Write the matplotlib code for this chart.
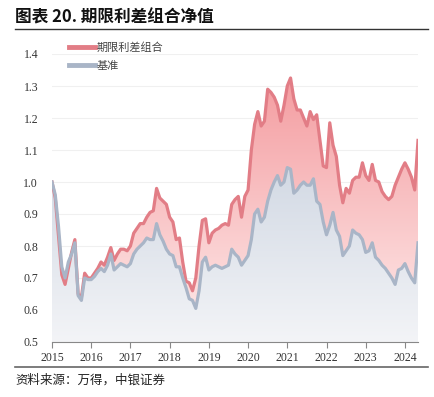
import matplotlib
matplotlib.use('Agg')
import matplotlib.pyplot as plt
import numpy as np
from matplotlib.patches import PathPatch
from matplotlib.colors import to_rgba

plt.rcParams['font.family'] = ['Noto Sans CJK SC', 'DejaVu Sans']

# monthly net values, Jan 2015 .. May 2024
years = ['2015', '2016', '2017', '2018', '2019', '2020', '2021', '2022', '2023', '2024']
portfolio = [
    1.00, 0.95, 0.83, 0.71, 0.68, 0.73, 0.78, 0.82, 0.65, 0.64, 0.715, 0.70,
    0.70, 0.715, 0.73, 0.75, 0.74, 0.765, 0.795, 0.755, 0.775, 0.79, 0.79, 0.785,
    0.80, 0.84, 0.855, 0.87, 0.87, 0.89, 0.905, 0.91, 0.98, 0.95, 0.94, 0.93,
    0.89, 0.875, 0.82, 0.825, 0.75, 0.69, 0.685, 0.66, 0.70, 0.80, 0.88, 0.885,
    0.81, 0.84, 0.85, 0.855, 0.865, 0.87, 0.865, 0.93, 0.945, 0.955, 0.89, 0.955,
    0.975, 1.10, 1.18, 1.22, 1.175, 1.19, 1.29, 1.28, 1.265, 1.24, 1.19, 1.24,
    1.30, 1.325, 1.26, 1.225, 1.225, 1.20, 1.175, 1.22, 1.195, 1.21, 1.13, 1.05,
    1.045, 1.185, 1.115, 1.08, 0.99, 0.935, 0.98, 0.965, 1.005, 1.015, 1.015, 1.06,
    1.02, 1.005, 1.055, 1.005, 1.00, 0.97, 0.955, 0.945, 0.955, 0.99, 1.015, 1.04,
    1.06, 1.04, 1.015, 0.975, 1.13,
]
benchmark = [
    1.00, 0.96, 0.86, 0.735, 0.70, 0.75, 0.775, 0.81, 0.645, 0.63, 0.70, 0.695,
    0.695, 0.705, 0.72, 0.73, 0.72, 0.74, 0.775, 0.725, 0.735, 0.745, 0.74, 0.735,
    0.745, 0.775, 0.79, 0.80, 0.81, 0.825, 0.82, 0.82, 0.87, 0.835, 0.815, 0.79,
    0.775, 0.77, 0.735, 0.735, 0.70, 0.67, 0.635, 0.63, 0.605, 0.66, 0.75, 0.765,
    0.725, 0.735, 0.74, 0.735, 0.73, 0.735, 0.74, 0.79, 0.775, 0.765, 0.74, 0.755,
    0.77, 0.82, 0.90, 0.915, 0.875, 0.89, 0.94, 0.975, 1.00, 1.02, 0.99, 1.00,
    1.045, 1.04, 0.965, 0.975, 0.99, 1.00, 0.99, 0.99, 1.01, 0.94, 0.93, 0.875,
    0.835, 0.865, 0.905, 0.85, 0.83, 0.77, 0.785, 0.80, 0.85, 0.84, 0.835, 0.82,
    0.78, 0.785, 0.81, 0.765, 0.755, 0.74, 0.73, 0.715, 0.70, 0.68, 0.725, 0.73,
    0.745, 0.72, 0.70, 0.685, 0.81,
]
labels = ['期限利差组合', '基准']

red = '#e27d86'
blue = '#a9b5c7'


def grad_fill(ax, x, y_lo, y_hi, c_top, c_bot, v_top, v_bot, z):
    poly = ax.fill_between(x, y_lo, y_hi, color='none', lw=0)
    clip = PathPatch(poly.get_paths()[0], transform=ax.transData,
                     facecolor='none', edgecolor='none')
    ax.add_patch(clip)
    t = np.linspace(0, 1, 256)[:, None]
    ct = np.array(to_rgba(c_top))
    cb = np.array(to_rgba(c_bot))
    img = (cb * (1 - t) + ct * t)[:, None, :]
    im = ax.imshow(img, extent=[x[0], x[-1], v_bot, v_top], origin='lower',
                   aspect='auto', zorder=z, interpolation='bilinear')
    im.set_clip_path(clip)


fig = plt.figure(figsize=(4.34, 3.97), dpi=100)
ax = fig.add_axes([52 / 434, 1 - 342 / 397, 366 / 434, 288 / 397])

x = np.arange(len(portfolio))
grad_fill(ax, x, benchmark, portfolio, '#f49ca0', '#fde3e3', 1.33, 0.6, 1)
grad_fill(ax, x, 0.5, benchmark, '#d2d9e4', '#f3f4f7', 1.05, 0.5, 1)

l1, = ax.plot(x, portfolio, color=red, lw=2.3, zorder=3, solid_joinstyle='round')
l2, = ax.plot(x, benchmark, color=blue, lw=2.3, zorder=4, solid_joinstyle='round')

ax.set_xlim(0, len(portfolio) - 1)
ax.set_ylim(0.5, 1.4)
ax.set_yticks(np.arange(0.5, 1.41, 0.1))
ax.set_yticklabels(['%.1f' % v for v in np.arange(0.5, 1.41, 0.1)])
ax.set_xticks(np.arange(0, len(portfolio), 12))
ax.set_xticklabels(years)
for lab in ax.get_xticklabels() + ax.get_yticklabels():
    lab.set_family('Liberation Serif')
    lab.set_fontsize(8.5)
    lab.set_color('#333333')
ax.tick_params(axis='y', length=0, pad=10)
ax.tick_params(axis='x', length=4, color='#888888', width=0.8, pad=3)
ax.grid(axis='y', color='#f0f0f0', lw=0.8)
ax.set_axisbelow(True)
for s in ['top', 'right', 'left']:
    ax.spines[s].set_visible(False)
ax.spines['bottom'].set_color('#888888')
ax.spines['bottom'].set_linewidth(0.8)
ax.spines['bottom'].set_zorder(5)

leg = fig.legend([l1, l2], labels, loc='upper left',
                 bbox_to_anchor=(59 / 434, 1 - 32 / 397), frameon=False,
                 fontsize=8, handlelength=2.3, labelspacing=0.75,
                 handletextpad=0.15)
for t in leg.get_texts():
    t.set_color('#444444')
for h in leg.get_lines():
    h.set_linewidth(3.5)

fig.text(15 / 434, 1 - 17 / 397, '图表 20. 期限利差组合净值', fontsize=12,
         fontweight='bold', va='center', ha='left', color='#111111')
fig.add_artist(plt.Line2D([15 / 434, 428 / 434], [1 - 29 / 397, 1 - 29 / 397],
                          color='#333333', lw=1.0))
fig.add_artist(plt.Line2D([15 / 434, 428 / 434], [1 - 367 / 397, 1 - 367 / 397],
                          color='#666666', lw=1.2))
fig.text(15 / 434, 1 - 380 / 397, '资料来源：万得，中银证券', fontsize=9,
         style='italic', va='center', ha='left', color='#222222')

fig.savefig('out.png', dpi=100)
